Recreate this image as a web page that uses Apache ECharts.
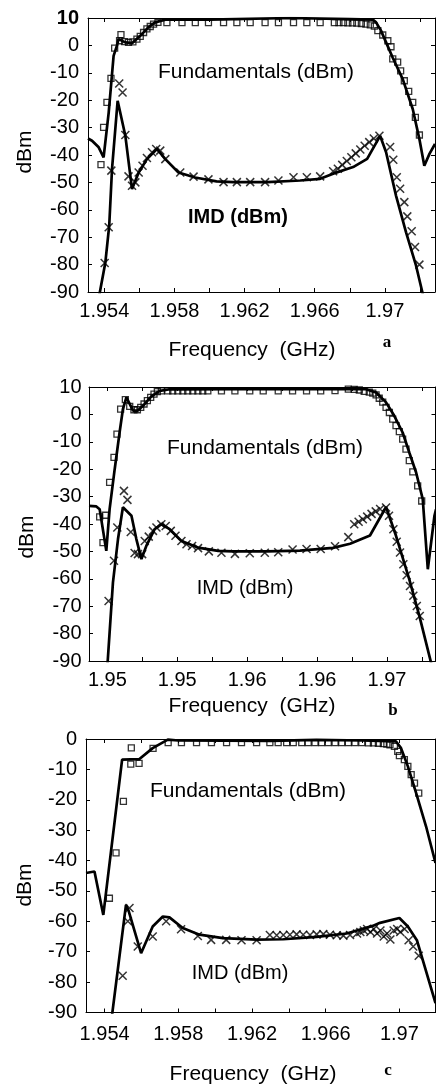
<!DOCTYPE html>
<html><head><meta charset="utf-8">
<script src="https://cdn.jsdelivr.net/npm/echarts@6/dist/echarts.min.js"></script>
<style>html,body{margin:0;padding:0;background:#fff}#c{width:436px;height:1091px}</style>
</head><body><div id="c"></div>
<script>
// ---------- tick labels ----------
const xTickVals = [1.954,1.956,1.958,1.960,1.962,1.964,1.966,1.968,1.970,1.972];
const xLabelVals = [1.954,1.958,1.962,1.966,1.970];
const xLabelsAC = ['1.954','1.958','1.962','1.966','1.97'];
const xLabelsB = ['1.95','1.95','1.96','1.96','1.97'];

// ---------- panel a ----------
const aFundLine = [[1.95307,-34],[1.9533,-34.8],[1.95368,-37.2],[1.95396,-40.9],[1.95425,-24.5],[1.95453,-3.8],[1.95472,-0.1],[1.95481,2.3],[1.9552,1.1],[1.95558,0.8],[1.95605,3.5],[1.95651,6.6],[1.9569,8.4],[1.95748,9.4],[1.96,9.4],[1.9646,10],[1.968,9.6],[1.96931,9.4],[1.9695,8.4],[1.96978,5.4],[1.97007,1.1],[1.97045,-4.5],[1.97102,-12.3],[1.97159,-23.2],[1.97197,-34.2],[1.97225,-43.9],[1.97255,-39.5],[1.97286,-36]];
const aFundPts = [[1.95381,-43.5],[1.95396,-29.9],[1.95415,-20.8],[1.95438,-12],[1.95459,-1],[1.95487,1.7],[1.95495,3.9],[1.95516,1.4],[1.95538,1.1],[1.95563,1.3],[1.95586,2.3],[1.95605,3.3],[1.95624,4.7],[1.95643,6],[1.95662,6.9],[1.95681,7.8],[1.95706,8.4],[1.95757,8.3],[1.95843,8.3],[1.95919,8.3],[1.95994,8.3],[1.9608,8.3],[1.96156,8.3],[1.96232,8.3],[1.96317,8.3],[1.96393,8.3],[1.96479,8.3],[1.96555,8.3],[1.96631,8.3],[1.96712,8.3],[1.96738,8.3],[1.96764,8.3],[1.96789,8.2],[1.96815,8.2],[1.9684,8.1],[1.96866,8.0],[1.96892,7.8],[1.96917,7.5],[1.9694,7.0],[1.9696,5.4],[1.96988,3.8],[1.97017,1.7],[1.97035,-0.5],[1.97045,-4.9],[1.97073,-6.1],[1.9709,-9.3],[1.97111,-12.9],[1.97136,-16.8],[1.97159,-20.8],[1.97174,-26.3],[1.97197,-32.7]];
const aImdLine = [[1.95369,-92],[1.95406,-79.2],[1.95428,-65.8],[1.95444,-45.1],[1.95476,-20.2],[1.9552,-33],[1.95558,-52.4],[1.95596,-46.4],[1.95643,-41.5],[1.957,-37.8],[1.95748,-41.5],[1.95823,-46.4],[1.95918,-48.2],[1.9604,-49.6],[1.96135,-49.9],[1.96329,-49.9],[1.96517,-49.3],[1.96631,-48.7],[1.96705,-46.8],[1.96819,-44.4],[1.96899,-41.4],[1.96973,-33],[1.97007,-39],[1.97064,-54.9],[1.97121,-68.2],[1.97178,-80.4],[1.97221,-92]];
const aImdPts = [[1.95402,-79.4],[1.95425,-66.4],[1.9544,-45.7],[1.95485,-13.9],[1.95504,-17.2],[1.9552,-32.7],[1.95538,-47.8],[1.95558,-51.2],[1.95577,-50],[1.95596,-46.4],[1.95618,-43.9],[1.95643,-41.1],[1.95672,-39],[1.95696,-37.8],[1.95719,-38.4],[1.95748,-41.5],[1.95833,-46.4],[1.95909,-47.9],[1.95994,-48.9],[1.9608,-49.9],[1.96156,-49.9],[1.96232,-49.9],[1.96317,-49.9],[1.96393,-49.3],[1.96479,-48.1],[1.96555,-48.1],[1.96631,-47.8],[1.96705,-45.9],[1.96732,-45],[1.96757,-43.6],[1.96783,-42.2],[1.96809,-40.8],[1.96834,-39.4],[1.9686,-38],[1.96885,-36.6],[1.96911,-35.3],[1.96937,-34],[1.96969,-33],[1.9703,-37.1],[1.97048,-41.7],[1.97068,-48.1],[1.97087,-52.3],[1.97111,-57.2],[1.97128,-62.4],[1.97153,-67.8],[1.97172,-73.6],[1.97197,-80]];

// ---------- panel b ----------
const bFundLine = [[1.95295,-33.4],[1.95337,-33.6],[1.95356,-34.6],[1.95394,-49.8],[1.95413,-34.6],[1.95442,-20],[1.9547,-6.6],[1.95489,1.9],[1.95509,6.2],[1.95547,1.4],[1.95575,1.4],[1.95614,3.8],[1.95652,6.6],[1.957,8.6],[1.9575,9.1],[1.965,9.3],[1.9688,9.2],[1.96938,8],[1.96995,4.4],[1.97042,-0.5],[1.9709,-6.6],[1.97128,-13.9],[1.97167,-21.2],[1.97205,-30.9],[1.97234,-56.5],[1.97272,-37],[1.97281,-34.6]];
const bFundPts = [[1.95356,-37.4],[1.95375,-46.8],[1.95389,-36.8],[1.95413,-24.8],[1.95438,-15.7],[1.95455,-7.2],[1.95476,1.9],[1.95503,5.4],[1.95528,2.9],[1.95552,1.7],[1.95572,1.7],[1.95591,2.6],[1.9561,3.8],[1.95629,5],[1.95648,6.2],[1.95667,7.4],[1.95686,8.3],[1.95709,8.6],[1.95746,8.6],[1.95774,8.6],[1.95803,8.6],[1.95832,8.6],[1.9586,8.6],[1.95889,8.6],[1.95918,8.6],[1.95946,8.6],[1.95975,8.6],[1.96053,8.6],[1.9613,8.6],[1.96215,8.6],[1.96292,8.6],[1.96378,8.6],[1.9646,8.6],[1.9654,8.6],[1.96621,8.6],[1.96703,8.7],[1.96779,9.2],[1.96813,9.1],[1.96842,8.9],[1.9687,8.4],[1.96899,8.1],[1.96919,7.8],[1.96938,7.1],[1.96956,5.9],[1.96976,4.5],[1.96995,2.6],[1.97014,0.7],[1.97033,-1.7],[1.97052,-4.1],[1.97071,-6.3],[1.9709,-9],[1.97109,-12.7],[1.97128,-16.9],[1.97148,-21],[1.97176,-26.1],[1.97199,-31.6]];
const bImdLine = [[1.954,-92],[1.95432,-61.4],[1.95461,-45.5],[1.95489,-33.9],[1.95538,-37],[1.95566,-45.5],[1.95595,-52.8],[1.95623,-48],[1.95671,-41.9],[1.95709,-40.1],[1.95757,-41.9],[1.95824,-46.2],[1.95919,-48.6],[1.96034,-49.8],[1.96118,-50],[1.96313,-50],[1.96502,-49.7],[1.96691,-48.7],[1.96789,-47.2],[1.96903,-44.2],[1.96995,-33.8],[1.97052,-44.3],[1.97128,-60.2],[1.97186,-73.6],[1.97258,-92]];
const bImdPts = [[1.95407,-68.1],[1.95438,-53.4],[1.95457,-41.3],[1.95495,-27.9],[1.95515,-31.2],[1.95534,-42.9],[1.95556,-50.6],[1.95575,-51],[1.95599,-51],[1.95614,-46.2],[1.95637,-44.6],[1.95661,-42.5],[1.95681,-41.3],[1.95709,-40.1],[1.95734,-40.7],[1.95763,-42.5],[1.9579,-44.3],[1.95824,-46.2],[1.95853,-47.4],[1.95885,-48],[1.95919,-48.8],[1.95981,-50],[1.96053,-50.5],[1.9613,-50.9],[1.96215,-50.7],[1.96301,-50.5],[1.96378,-50.3],[1.9646,-49.3],[1.9654,-49.1],[1.96621,-49.1],[1.96703,-48.1],[1.96779,-44.8],[1.96813,-40.1],[1.96838,-39.2],[1.96862,-38.3],[1.96887,-37.3],[1.96912,-36.3],[1.96936,-35.4],[1.96961,-34.5],[1.96995,-34],[1.97012,-37],[1.97037,-41.9],[1.97056,-46.5],[1.97075,-50.4],[1.97094,-54.7],[1.97113,-58.7],[1.97132,-62.6],[1.97151,-66.2],[1.97171,-69.9],[1.97188,-73.6]];

// ---------- panel c ----------
const cFundLine = [[1.95299,-44.1],[1.95345,-43.6],[1.95393,-57.9],[1.95495,-6.8],[1.95589,-6.6],[1.95661,-3],[1.95743,-0.2],[1.958,-0.5],[1.963,-0.6],[1.9655,-0.3],[1.968,-0.5],[1.96982,-0.8],[1.97009,-3],[1.97046,-9],[1.97091,-17.8],[1.97145,-28.8],[1.97196,-40.8]];
const cFundPts = [[1.95426,-52.4],[1.95462,-37.5],[1.95502,-20.5],[1.95545,-2.9],[1.95542,-8.3],[1.95587,-8],[1.95663,-3.1],[1.95745,-1.2],[1.95817,-1.2],[1.95899,-1.2],[1.9598,-1.2],[1.96062,-1.2],[1.96143,-1.2],[1.96225,-1.2],[1.96297,-1.2],[1.96342,-1.2],[1.96388,-1.2],[1.96424,-1.2],[1.9647,-1.2],[1.96505,-1.2],[1.96542,-1.2],[1.96578,-1.2],[1.96614,-1.2],[1.96651,-1.2],[1.96687,-1.2],[1.96723,-1.2],[1.96759,-1.2],[1.96796,-1.2],[1.96832,-1.3],[1.96859,-1.3],[1.96886,-1.4],[1.96913,-1.5],[1.96932,-1.7],[1.96949,-1.9],[1.96973,-2.4],[1.96991,-4.1],[1.97,-5.5],[1.97027,-6.8],[1.97046,-9],[1.97064,-11.7],[1.97082,-14.5],[1.97105,-17.8]];
const cImdLine = [[1.95438,-92],[1.95516,-54.6],[1.9553,-56.5],[1.95598,-70.5],[1.95661,-61.7],[1.95716,-58.4],[1.95752,-58.7],[1.95824,-62.2],[1.95915,-64.4],[1.96042,-65.5],[1.96225,-66],[1.9637,-65.9],[1.96551,-65.1],[1.96714,-64],[1.96855,-61.5],[1.96895,-60.5],[1.97,-58.9],[1.97046,-61.7],[1.97095,-66.2],[1.97196,-86.9]];
const cImdPts = [[1.95457,-90.2],[1.95498,-77.9],[1.95526,-60],[1.95535,-55.6],[1.9558,-68.3],[1.95661,-65],[1.95734,-60],[1.95815,-62.6],[1.95906,-64.8],[1.95978,-66.1],[1.9606,-66.1],[1.96143,-66.2],[1.96225,-66.2],[1.96297,-64.5],[1.96334,-64.6],[1.9637,-64.5],[1.96406,-64.4],[1.96442,-64.3],[1.96478,-64.4],[1.96515,-64.5],[1.96551,-64.3],[1.96587,-64.2],[1.96623,-64.4],[1.9666,-64.6],[1.96696,-64.7],[1.96732,-64.5],[1.9677,-64],[1.96788,-63.5],[1.96807,-63],[1.96825,-62.5],[1.96843,-63.5],[1.96861,-62.5],[1.96879,-64],[1.96897,-63],[1.96915,-65],[1.96933,-64],[1.96951,-66],[1.96969,-63],[1.96988,-62.5],[1.97005,-63.5],[1.97028,-62.5],[1.9705,-66.2],[1.97075,-68.3],[1.97105,-71.3]];

// ---------- layout ----------
const FONT = '"Liberation Sans", Arial, sans-serif';
const panels = [
  {grid:{left:88,top:18,width:347,height:274}, x:[1.95307,1.97286], y:[-90,10], labels:xLabelsAC, lm:9, xm:9, bold10:true,
   fund:aFundLine, fundPts:aFundPts, imd:aImdLine, imdPts:aImdPts},
  {grid:{left:89,top:387,width:346.5,height:274}, x:[1.95295,1.97278], y:[-90,10], labels:xLabelsB, lm:7.5, xm:9, bold10:false,
   fund:bFundLine, fundPts:bFundPts, imd:bImdLine, imdPts:bImdPts},
  {grid:{left:86,top:739,width:349.5,height:273.5}, x:[1.95299,1.97196], y:[-90,0], labels:xLabelsAC, lm:9, xm:12, bold10:false,
   fund:cFundLine, fundPts:cFundPts, imd:cImdLine, imdPts:cImdPts}
];

const grid=[], xAxis=[], yAxis=[], series=[];
const axLine = {show:true, onZero:false, lineStyle:{color:'#000', width:1}};
const tick = {show:true, inside:true, length:4, lineStyle:{color:'#000', width:1}};
const crossPath = 'path://M0,0L10,10M10,0L0,10';

panels.forEach((p, i) => {
  grid.push(Object.assign({outerBoundsMode:'none', containLabel:false}, p.grid));
  const ticks = xTickVals.filter(v => v >= p.x[0] && v <= p.x[1]);
  const labs = p.labels;
  xAxis.push({type:'value', gridIndex:i, min:p.x[0], max:p.x[1], position:'bottom',
    axisLine:axLine, splitLine:{show:false},
    axisTick:Object.assign({customValues:ticks}, tick),
    axisLabel:{customValues:xLabelVals, margin:p.xm, color:'#000', fontSize:20, fontFamily:FONT,
      formatter: v => { const k = xLabelVals.findIndex(t => Math.abs(t - v) < 1e-7); return k >= 0 ? labs[k] : ''; }}});
  xAxis.push({type:'value', gridIndex:i, min:p.x[0], max:p.x[1], position:'top',
    axisLine:axLine, splitLine:{show:false},
    axisTick:Object.assign({customValues:ticks}, tick), axisLabel:{show:false}});
  yAxis.push({type:'value', gridIndex:i, min:p.y[0], max:p.y[1], interval:10, position:'left',
    axisLine:axLine, splitLine:{show:false}, axisTick:tick,
    axisLabel:{margin:p.lm, color:'#000', fontSize:20, fontFamily:FONT,
      formatter: v => (p.bold10 && v === 10) ? '{b|10}' : String(v),
      rich:{b:{fontWeight:'bold', fontSize:20, fontFamily:FONT, color:'#000'}}}});
  yAxis.push({type:'value', gridIndex:i, min:p.y[0], max:p.y[1], interval:10, position:'right',
    axisLine:axLine, splitLine:{show:false}, axisTick:tick, axisLabel:{show:false}});

  const xi = i*2, yi = i*2;
  const lineS = {color:'#000', width:2.7};
  series.push({type:'line', xAxisIndex:xi, yAxisIndex:yi, data:p.fund, showSymbol:false, symbol:'none', lineStyle:lineS, z:2, silent:true});
  series.push({type:'line', xAxisIndex:xi, yAxisIndex:yi, data:p.imd, showSymbol:false, symbol:'none', lineStyle:lineS, z:2, silent:true});
  series.push({type:'scatter', xAxisIndex:xi, yAxisIndex:yi, data:p.fundPts, symbol:'rect', symbolSize:6,
    itemStyle:{color:'rgba(0,0,0,0)', borderColor:'#000', borderWidth:1.3}, z:3, silent:true});
  series.push({type:'scatter', xAxisIndex:xi, yAxisIndex:yi, data:p.imdPts, symbol:crossPath, symbolSize:8,
    itemStyle:{color:'rgba(0,0,0,0)', borderColor:'#000', borderWidth:1.5}, z:3, silent:true});
});

function txt(x, y, s, opts) {
  return {type:'text', x:x, y:y, style:Object.assign({text:s, fill:'#000', font:'20px ' + FONT, textAlign:'center', textVerticalAlign:'middle'}, opts||{})};
}
const graphic = [
  txt(25,152,'dBm',{font:'21px '+FONT}), txt(27,537,'dBm',{font:'21px '+FONT}), txt(25,885,'dBm',{font:'21px '+FONT}),
  txt(252,350,'Frequency  (GHz)',{font:'21px '+FONT}),
  txt(252,706,'Frequency  (GHz)',{font:'21px '+FONT}),
  txt(253,1074,'Frequency  (GHz)',{font:'21px '+FONT}),
  txt(256,72,'Fundamentals (dBm)',{font:'21px '+FONT}),
  txt(265,448,'Fundamentals (dBm)',{font:'21px '+FONT}),
  txt(248,791,'Fundamentals (dBm)',{font:'21px '+FONT}),
  txt(238,217,'IMD (dBm)',{font:'bold 20px '+FONT}),
  txt(245,588,'IMD (dBm)',{font:'20px '+FONT}),
  txt(240,973,'IMD (dBm)',{font:'20px '+FONT}),
  txt(387,343,'a',{font:'bold 17px "Liberation Serif", "Times New Roman", serif'}),
  txt(393,711,'b',{font:'bold 17px "Liberation Serif", "Times New Roman", serif'}),
  txt(388,1071,'c',{font:'bold 17px "Liberation Serif", "Times New Roman", serif'})
];
graphic[0].rotation = Math.PI/2; graphic[1].rotation = Math.PI/2; graphic[2].rotation = Math.PI/2;

const chart = echarts.init(document.getElementById('c'), null, {renderer:'canvas', width:436, height:1091});
chart.setOption({animation:false, backgroundColor:'#fff', grid, xAxis, yAxis, series, graphic});
</script>
</body></html>
